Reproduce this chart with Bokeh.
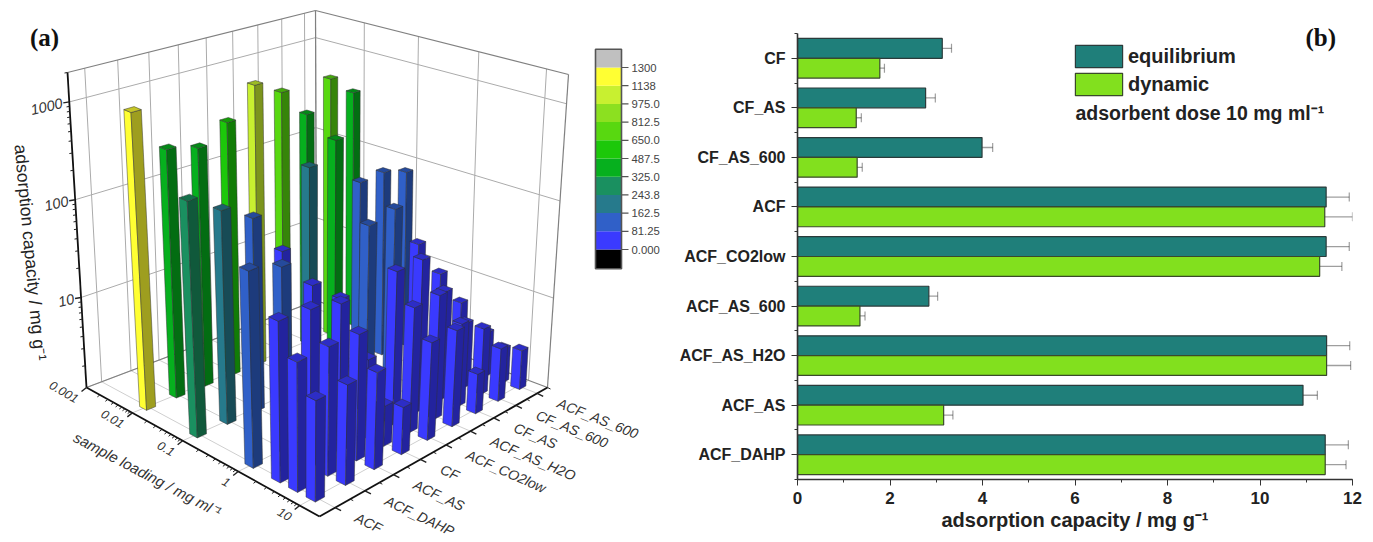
import numpy as np
from bokeh.embed import file_html
from bokeh.resources import INLINE
from bokeh.plotting import figure
from bokeh.layouts import row, column
from bokeh.models import Range1d, FixedTicker, Whisker, TeeHead, ColumnDataSource, Legend, LegendItem, Label
from bokeh.core.properties import value

# ---------- data ----------
categories_3d = ["ACF", "ACF_DAHP", "ACF_AS", "CF", "ACF_CO2low", "ACF_AS_H2O", "CF_AS", "CF_AS_600", "ACF_AS_600"]
loadings = [0.01, 0.1, 1, 2.8, 5.3, 10]
q_001 = [1200, 400, 330, 490, 980, 680, 330, 660, 395]
q_01 = [267, 164, 106, 38, 215, 330, 97, 100, 82]
q_1 = [102, 82, 40, 22, 92, 105, 36, 14, 5.5]
q_25 = [45, 42, 35, 7.2, 41, 41, 15, 5.5, 3.4]
q_5 = [22, 22, 21, 3, 21, 21, 8.2, 5.6, 2.7]
q_10 = [11.5, 11.4, 10.7, 3.5, 11.2, 11, 3, 4.1, 3]
all_q = [q_001, q_01, q_1, q_25, q_5, q_10]

level_labels = ["0.000", "81.25", "162.5", "243.8", "325.0", "487.5", "650.0", "812.5", "975.0", "1138", "1300"]
levels = [0, 81.25, 162.5, 243.8, 325, 487.5, 650, 812.5, 975, 1138, 1300]
level_colors = ["#000000", "#3A3AFF", "#3060C8", "#267A8C", "#1A9060", "#06B01E", "#1CC80A",
                "#58D810", "#8CE020", "#C8F030", "#FFFF33", "#C0C0C0"]

categories_b = ["CF", "CF_AS", "CF_AS_600", "ACF", "ACF_CO2low", "ACF_AS_600", "ACF_AS_H2O", "ACF_AS", "ACF_DAHP"]
equilibrium = [3.13, 2.77, 3.99, 11.43, 11.43, 2.84, 11.44, 10.93, 11.41]
dynamic = [1.78, 1.27, 1.29, 11.40, 11.29, 1.35, 11.44, 3.16, 11.41]
err_eq = [0.20, 0.21, 0.23, 0.50, 0.50, 0.19, 0.50, 0.31, 0.50]
err_dy = [0.10, 0.11, 0.11, 0.60, 0.48, 0.11, 0.52, 0.20, 0.45]

# ---------- 3D projection (panel a); range units are page pixels ----------
U0, U1 = -3.0, 1.3
V0, V1 = -0.5, 8.5
Z0, Z1 = np.log10(1.2), np.log10(2000)
FLOOR = [(86, 387), (319, 516), (547, 387), (316, 300)]
ROOF = [(67, 72), (322, 182), (568, 74), (315, 10)]
H_TOTAL = 540


def homography(q):
    src = [(0, 0), (1, 0), (1, 1), (0, 1)]
    A, b = [], []
    for (s, t), (x, y) in zip(src, q):
        A.append([s, t, 1, 0, 0, 0, -s * x, -t * x]); b.append(x)
        A.append([0, 0, 0, s, t, 1, -s * y, -t * y]); b.append(y)
    h = np.linalg.solve(np.array(A, float), np.array(b, float))
    return np.append(h, 1).reshape(3, 3)


HF, HT = homography(FLOOR), homography(ROOF)


def _ap(H, s, t):
    r = H @ np.array([s, t, 1.0])
    return r[:2] / r[2]


def proj(u, v, logz):
    s, t = (u - U0) / (U1 - U0), (v - V0) / (V1 - V0)
    w = (logz - Z0) / (Z1 - Z0)
    f, g = _ap(HF, s, t), _ap(HT, s, t)
    return f + w * (g - f)


def shade(c, k):
    r, g, b = int(c[1:3], 16), int(c[3:5], 16), int(c[5:7], 16)
    return "#%02x%02x%02x" % (int(r * k), int(g * k), int(b * k))


def level_color(q):
    i = 0
    for j, l in enumerate(levels):
        if q >= l:
            i = j + 1
    return level_colors[i]


pa = figure(width=668, height=H_TOTAL, x_range=Range1d(0, 668), y_range=Range1d(H_TOTAL, 0),
            output_backend="svg", toolbar_location=None, min_border=0, outline_line_color=None)
pa.axis.visible = False
pa.grid.visible = False


def lines(segs, **kw):
    pa.multi_line([[a[0], b[0]] for a, b in segs], [[a[1], b[1]] for a, b in segs], **kw)


dec_z = [1, 2, 3]
dec_u = [-3, -2, -1, 0, 1]
vv = list(range(9))
g_wall, g_floor = [], []
for d in dec_z:
    g_wall.append((proj(U0, V0, d), proj(U0, V1, d)))
    g_wall.append((proj(U0, V1, d), proj(U1, V1, d)))
for v in vv:
    g_wall.append((proj(U0, v, Z0), proj(U0, v, Z1)))
    g_floor.append((proj(U0, v, Z0), proj(U1, v, Z0)))
for d in dec_u:
    g_wall.append((proj(d, V1, Z0), proj(d, V1, Z1)))
    g_floor.append((proj(d, V0, Z0), proj(d, V1, Z0)))
lines(g_floor, line_color="#cfcfcf", line_width=1)
lines(g_wall, line_color="#ababab", line_width=1)
lines([(proj(U0, V0, Z1), proj(U0, V1, Z1)), (proj(U0, V1, Z1), proj(U1, V1, Z1)),
       (proj(U1, V1, Z1), proj(U1, V1, Z0)), (proj(U0, V1, Z0), proj(U1, V1, Z0)),
       (proj(U0, V1, Z0), proj(U0, V0, Z0)), (proj(U0, V1, Z1), proj(U0, V1, Z0))],
      line_color="#808080", line_width=1.2)

# axes
ax = [(proj(U0, V0, Z0), proj(U0, V0, Z1)), (proj(U0, V0, Z0), proj(U1, V0, Z0)), (proj(U1, V0, Z0), proj(U1, V1, Z0))]
ticks_major, ticks_minor = [], []
for d in [0, 1, 2, 3]:
    for m in range(1, 10):
        lz = d + np.log10(m)
        if Z0 <= lz <= Z1:
            a = proj(U0, V0, lz)
            (ticks_major if m == 1 else ticks_minor).append((a, a + (np.array([-6, 1]) if m == 1 else np.array([-3, .5]))))
for d in [-3, -2, -1, 0, 1]:
    for m in range(1, 10):
        lu = d + np.log10(m)
        if U0 <= lu <= U1:
            a = proj(lu, V0, Z0)
            (ticks_major if m == 1 else ticks_minor).append((a, a + (np.array([-5, 4]) if m == 1 else np.array([-2.5, 2]))))
for v in vv:
    a = proj(U1, v, Z0)
    ticks_major.append((a, a + np.array([6, 3])))
    a = proj(U1, v + .5, Z0)
    ticks_minor.append((a, a + np.array([3, 1.5])))
lines(ax, line_color="#111111", line_width=1.8)
lines(ticks_major, line_color="#222222", line_width=1.4)
lines(ticks_minor, line_color="#222222", line_width=1)

# bars, back to front
DU, DV = 0.072, 0.15
order = sorted([(i, j) for i in range(len(loadings)) for j in range(9)], key=lambda t: (t[0], -t[1]))
fx, fy, fc = [], [], []
for i, j in order:
    q = all_q[i][j]
    u, v = np.log10(loadings[i]), j
    lz = np.log10(q)
    col = level_color(q)
    L0, M0, R0 = proj(u - DU, v - DV, Z0), proj(u + DU, v - DV, Z0), proj(u + DU, v + DV, Z0)
    L1, M1, R1, B1 = proj(u - DU, v - DV, lz), proj(u + DU, v - DV, lz), proj(u + DU, v + DV, lz), proj(u - DU, v + DV, lz)
    for poly, c in (((L0, M0, M1, L1), col), ((M0, R0, R1, M1), shade(col, .62)), ((L1, M1, R1, B1), shade(col, .78))):
        fx.append([p[0] for p in poly]); fy.append([p[1] for p in poly]); fc.append(c)
pa.patches(fx, fy, fill_color=fc, line_color="#303030", line_alpha=.6, line_width=.8)

# colour scale
CB_TOP = 67
CB_STEP = 18.2
cb_y = [CB_TOP + k * CB_STEP for k in range(len(levels))][::-1]  # value index -> y
quad_top, quad_bot = [], []
for k in range(len(level_colors)):
    if k == 0:
        quad_top.append(cb_y[0]); quad_bot.append(cb_y[0] + CB_STEP + 1)
    elif k == len(level_colors) - 1:
        quad_top.append(cb_y[-1] - CB_STEP); quad_bot.append(cb_y[-1])
    else:
        quad_top.append(cb_y[k]); quad_bot.append(cb_y[k - 1])
pa.quad(left=595, right=621, top=quad_top, bottom=quad_bot, fill_color=level_colors, line_color=None)
pa.quad(left=595, right=621, top=quad_top[-1], bottom=quad_bot[0], fill_color=None, line_color="#555555", line_width=1.6)
pa.segment(621, cb_y, 628, cb_y, line_color="#555555", line_width=1.2)
pa.text([631] * len(cb_y), cb_y, text=level_labels, text_font=value("Liberation Sans"), text_font_size="11.3px",
        text_color="#444444", text_baseline="middle", text_align="left")


# 3D axis labels
def txt(x, y, t, angle=0., size="13px", color="#333333", align="center", style="normal", font="Liberation Sans"):
    pa.text([x], [y], text=[t], angle=angle, text_font=value(font), text_font_size=size, text_color=color,
            text_align=align, text_baseline="middle", text_font_style=style)


for d, lab in zip([1, 2, 3], ["10", "100", "1000"]):
    a = proj(U0, V0, d)
    txt(a[0] - 7, a[1] + 1, lab, angle=np.radians(13), align="right", style="italic", size="14.5px")
for d, lab in zip([-3, -2, -1, 0, 1], ["0.001", "0.01", "0.1", "1", "10"]):
    a = proj(d, V0, Z0)
    txt(a[0] - 9, a[1] + 12, lab, angle=np.radians(-30), align="right", style="italic", size="12.5px")
for v, lab in zip(vv, categories_3d):
    a = proj(U1, v, Z0)
    txt(a[0] + 21, a[1] + 9, lab, angle=np.radians(-26 + v * .5), align="left", size="14px", style="italic")
txt(30, 252, "adsorption capacity / mg g⁻¹", angle=np.radians(-84.7), size="17.6px", color="#222222")
txt(147, 474, "sample loading / mg ml⁻¹", angle=np.radians(-27.8), size="15px", style="italic")
txt(44, 37, "(a)", size="25px", color="#111111", style="bold", font="Liberation Serif")

# ---------- panel b ----------
STEP = 49.556
pb = figure(width=697, height=H_TOTAL, x_range=Range1d(0, 12), y_range=Range1d(8.5, -0.5 - 33 / STEP),
            output_backend="svg", toolbar_location=None, outline_line_color=None,
            min_border_left=129, min_border_right=13, min_border_top=0, min_border_bottom=H_TOTAL - 479)
pb.grid.visible = False
idx = np.arange(9)
src_e = ColumnDataSource(dict(y=idx - .2, h=equilibrium, lo=np.array(equilibrium) - err_eq, up=np.array(equilibrium) + err_eq))
src_d = ColumnDataSource(dict(y=idx + .2, h=dynamic, lo=np.array(dynamic) - err_dy, up=np.array(dynamic) + err_dy))
r1 = pb.hbar(y="y", right="h", left=0, height=.4, source=src_e, fill_color="#1F7F7A", line_color="#2b3b3b", line_width=1.2)
r2 = pb.hbar(y="y", right="h", left=0, height=.4, source=src_d, fill_color="#82E01E", line_color="#3a4a2a", line_width=1.2)
for s in (src_e, src_d):
    pb.add_layout(Whisker(base="y", lower="lo", upper="up", source=s, dimension="width",
                          line_color="#000000", line_alpha=.38, line_width=1.3,
                          upper_head=TeeHead(size=9, line_color="#000000", line_alpha=.38, line_width=1.2),
                          lower_head=TeeHead(size=9, line_color="#000000", line_alpha=.38, line_width=1.2)))
xa, ya = pb.xaxis[0], pb.yaxis[0]
xa.ticker = FixedTicker(ticks=list(range(0, 13, 2)), minor_ticks=list(range(0, 13)))
ya.ticker = FixedTicker(ticks=list(range(9)), minor_ticks=[k - .5 for k in range(10)])
ya.bounds = (-0.5, 8.5)
ya.major_label_overrides = {i: c for i, c in enumerate(categories_b)}
xa.axis_label = "adsorption capacity / mg g⁻¹"
xa.axis_label_text_font = "Liberation Sans"
xa.axis_label_text_font_size = "20px"
xa.axis_label_text_font_style = "bold"
xa.axis_label_text_color = "#222222"
xa.axis_label_standoff = 2
for a in (xa, ya):
    a.major_label_text_font = "Liberation Sans"
    a.major_label_text_font_style = "bold"
    a.major_label_text_color = "#222222"
    a.axis_line_color = "#333333"
    a.axis_line_width = 1.6
    a.major_tick_line_color = "#333333"
    a.minor_tick_line_color = "#333333"
    a.major_tick_in = 0
    a.minor_tick_in = 0
xa.major_label_text_font_size = "17px"
ya.major_label_text_font_size = "16px"
xa.major_tick_out = 6
xa.minor_tick_out = 3
ya.major_tick_out = 6
ya.minor_tick_out = 3
xa.major_label_standoff = 6
ya.major_label_standoff = 6
leg = Legend(items=[LegendItem(label="equilibrium", renderers=[r1]), LegendItem(label="dynamic", renderers=[r2])],
             location=(272, 381), glyph_width=59, glyph_height=28, spacing=0, padding=0, margin=0,
             border_line_color=None, background_fill_alpha=0, label_text_font="Liberation Sans",
             label_text_font_style="bold", label_text_font_size="20px", label_text_color="#222222", label_standoff=0)
pb.add_layout(leg)
pb.add_layout(Label(x=278, y=367, x_units="screen", y_units="screen", text="adsorbent dose 10 mg ml⁻¹",
                    text_font="Liberation Sans", text_font_style="bold", text_font_size="19.5px",
                    text_color="#222222", text_baseline="middle"))
pb.add_layout(Label(x=508, y=442, x_units="screen", y_units="screen", text="(b)",
                    text_font="Liberation Serif", text_font_style="bold", text_font_size="25px",
                    text_color="#111111", text_baseline="middle"))

open("out.html", "w").write(file_html(row(column(pa), column(pb)), INLINE))
